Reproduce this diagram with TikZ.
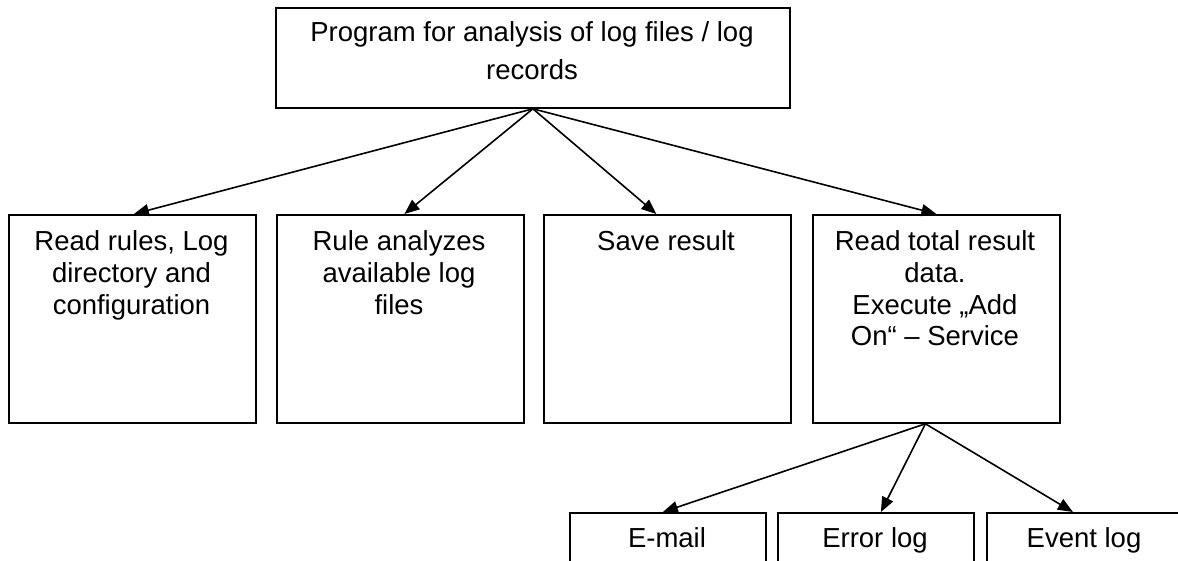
\documentclass[tikz,border=0pt]{standalone}
\usepackage{fontspec}
\setmainfont{Liberation Sans}
\usetikzlibrary{arrows.meta}
\begin{document}
\begin{tikzpicture}[x=1pt,y=-1pt,
  box/.style={draw, line width=1.8pt, rectangle, inner sep=0pt, anchor=north west},
  midbox/.style={box, minimum width=247pt, minimum height=208pt},
  lowbox/.style={box, minimum width=196pt, minimum height=80pt},
  txt/.style={anchor=north, inner sep=0pt, align=center, font=\fontsize{27.5}{31.6}\selectfont},
  arr/.style={line width=1.6pt, -{Triangle[length=15pt,width=12pt]}}]
\clip (0,0) rectangle (1178,560);
\fill[white] (0,0) rectangle (1178,560);
% top box
\node[box, minimum width=514pt, minimum height=100pt] (top) at (275,7) {};
\node[txt, font=\fontsize{27.5}{38.5}\selectfont] (ttop) at (532,21) {Program for analysis of log files / log\\records};
% middle boxes
\node[midbox] (b1) at (8,214) {};
\node[midbox] (b2) at (276,214) {};
\node[midbox] (b3) at (543,214) {};
\node[midbox] (b4) at (812,214) {};
\node[txt] (t1) at (131.5,230.8) {Read rules, Log\\directory and\\configuration};
\node[txt] (t2) at (399,230.8) {Rule analyzes\\available log\\files};
\node[txt] (t3) at (666,230.8) {Save result};
\node[txt] (t4) at (935,230.8) {Read total result\\data.\\Execute „Add\\On“ – Service};
% bottom boxes
\node[lowbox] (c1) at (569,512) {};
\node[lowbox] (c2) at (777,512) {};
\node[lowbox] (c3) at (986,512) {};
\node[txt] (u1) at (667,527.3) {E-mail};
\node[txt] (u2) at (875,527.3) {Error log};
\node[txt] (u3) at (1084,527.3) {Event log};
% connectors
\draw[arr] (top.south) -- ([xshift=1.5pt]b1.north);
\draw[arr] (top.south) -- ([xshift=4pt]b2.north);
\draw[arr] (top.south) -- ([xshift=-11pt]b3.north);
\draw[arr] (top.south) -- (b4.north);
\draw[arr] ([xshift=-11pt]b4.south) -- ([xshift=-5pt]c1.north);
\draw[arr] ([xshift=-11pt]b4.south) -- ([xshift=5pt]c2.north);
\draw[arr] ([xshift=-11pt]b4.south) -- ([xshift=-12pt]c3.north);
\end{tikzpicture}
\end{document}
